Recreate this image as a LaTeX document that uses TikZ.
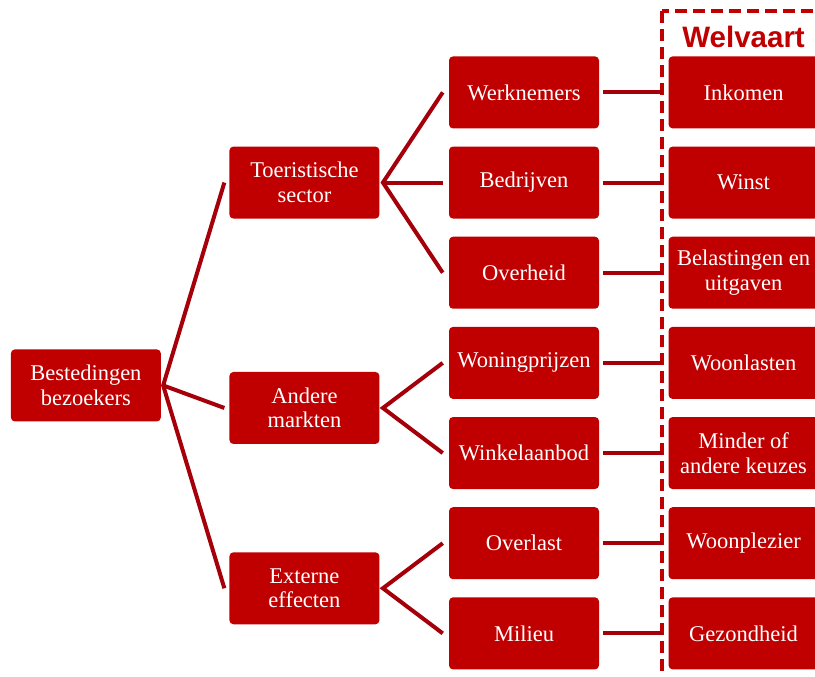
\documentclass[tikz,border=0pt]{standalone}
\usepackage{fontspec}
\setmainfont{Liberation Serif}
\newfontfamily\kopfont{Liberation Sans}
\usetikzlibrary{positioning,calc}
\definecolor{rood}{RGB}{192,0,0}
\definecolor{lijn}{RGB}{165,0,10}
\tikzset{
	blok/.style={fill=rood, text=white, rounded corners=0.1cm, minimum width=3.75cm, minimum height=1.8cm, align=center, inner sep=0pt, font=\fontsize{16}{17.5}\selectfont},
	tak/.style={draw=lijn, line width=0.1cm, line join=miter},
}

\begin{document}
\begin{tikzpicture}
		\useasboundingbox (0,0) rectangle (20.375,-16.925);
		
		%effects
		\node (x1) [blok] at (13.1,-2.31) {Werknemers};
		\node (x2) [blok, below = 0.44cm of x1] {Bedrijven};
		\node (x3) [blok, below = 0.44cm of x2] {Overheid};
		\node (x4) [blok, below = 0.44cm of x3] {Woningprijzen};
		\node (x5) [blok, below = 0.44cm of x4] {Winkelaanbod};
		\node (x6) [blok, below = 0.44cm of x5] {Overlast};
		\node (x7) [blok, below = 0.44cm of x6] {Milieu};
		
		%welvaart
		\node (w1) [blok, right = 1.725cm of x1] {Inkomen};
		\node (w2) [blok, right = 1.725cm of x2] {Winst};
		\node (w3) [blok, right = 1.725cm of x3] {Belastingen en\\uitgaven};
		\node (w4) [blok, right = 1.725cm of x4] {Woonlasten};
		\node (w5) [blok, right = 1.725cm of x5] {Minder of\\andere keuzes};
		\node (w6) [blok, right = 1.725cm of x6] {Woonplezier};
		\node (w7) [blok, right = 1.725cm of x7] {Gezondheid};
		\node (wl) [above = 0.2cm of w1, inner sep=0pt, text=rood, font=\kopfont\bfseries\fontsize{21}{21}\selectfont] {Welvaart};
		\draw[rood, line width=0.09cm, dash pattern=on 0.3cm off 0.15cm] ($(w1.north west)+(-0.15,1.125)$) rectangle ($(w7.south east)+(0.15,-0.25)$);
		
		%sectors
		\node (s1) [blok, left = 1.725cm of x2] {Toeristische\\sector};
		\coordinate (m2) at ($(x4.west)!0.5!(x5.west)$);
		\node (s2) [blok, left = 1.725cm of m2] {Andere\\markten};
		\coordinate (m3) at ($(x6.west)!0.5!(x7.west)$);
		\node (s3) [blok, left = 1.725cm of m3] {Externe\\effecten};
		
		%spending
		\coordinate (m1) at ($(s1.west)!0.5!(s3.west)$);
		\node (b) [blok, left = 1.7cm of m1] {Bestedingen\\bezoekers};
		
		%fan out
		\coordinate [right = 0.05cm of b] (bj);
		\coordinate [left = 0.12cm of s1] (e1);
		\coordinate [left = 0.12cm of s2] (e2);
		\coordinate [left = 0.12cm of s3] (e3);
		\draw[tak] (e1) -- (bj) -- (e3);
		\draw[tak] (bj) -- (e2);
		
		\coordinate [right = 0.08cm of s1] (j1);
		\coordinate [right = 0.08cm of s2] (j2);
		\coordinate [right = 0.08cm of s3] (j3);
		\foreach \i in {1,...,7}
			\coordinate [left = 0.15cm of x\i] (f\i);
		\draw[tak] (f1) -- (j1) -- (f3);
		\draw[tak] (j1) -- (f2);
		\draw[tak] (f4) -- (j2) -- (f5);
		\draw[tak] (f6) -- (j3) -- (f7);
		
		\foreach \i in {1,...,7}
			\draw[tak] ([xshift=0.1cm]x\i.east) -- ([xshift=-0.15cm]w\i.west);
\end{tikzpicture}
\end{document}
